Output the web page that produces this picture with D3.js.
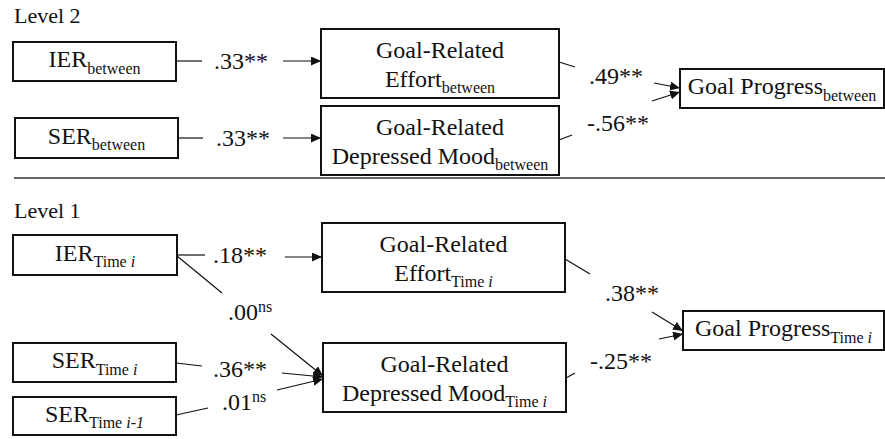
<!DOCTYPE html>
<html>
<head>
<meta charset="utf-8">
<script src="https://cdn.jsdelivr.net/npm/d3@7"></script>
<style>
  body { margin: 0; background: #fff; }
  svg { display: block; }
</style>
</head>
<body>
<div id="container"></div>
<script>
// ---- data ----
const levelNames = ["Level 2", "Level 1"];

const nodeIds   = ["ier2", "ser2", "eff2", "mood2", "gp2", "ier1", "ser1", "serLag1", "eff1", "mood1", "gp1"];
const nodeLines = [["IER"], ["SER"], ["Goal-Related", "Effort"], ["Goal-Related", "Depressed Mood"], ["Goal Progress"],
                   ["IER"], ["SER"], ["SER"], ["Goal-Related", "Effort"], ["Goal-Related", "Depressed Mood"], ["Goal Progress"]];
const nodeSubs  = ["between", "between", "between", "between", "between",
                   "Time i", "Time i", "Time i-1", "Time i", "Time i", "Time i"];

const pathFrom  = ["ier2", "ser2", "eff2", "mood2", "ier1", "ier1", "ser1", "serLag1", "eff1", "mood1"];
const pathTo    = ["eff2", "mood2", "gp2", "gp2", "eff1", "mood1", "mood1", "mood1", "gp1", "gp1"];
const pathCoef  = [".33", ".33", ".49", "-.56", ".18", ".00", ".36", ".01", ".38", "-.25"];
const pathSig   = ["**", "**", "**", "**", "**", "ns", "**", "ns", "**", "**"];

// ---- layout ----
let w = 885;
let h = 439;
const serif = "'Liberation Serif', 'Times New Roman', serif";
const fontMain = 24;
const fontSub = 16;

// box extents [x0, y0, x1, y1]
const boxes = {
  ier2: [13, 42, 176, 81],   ser2: [15, 118, 178, 158],
  eff2: [321, 29, 559, 98],  mood2: [321, 106, 559, 175],
  gp2: [680, 69, 884, 108],
  ier1: [13, 235, 177, 275], ser1: [13, 343, 176, 382], serLag1: [13, 397, 176, 435],
  eff1: [322, 223, 565, 292], mood1: [323, 343, 566, 412],
  gp1: [683, 311, 884, 350]
};

// each path: start, end of first piece, label anchor (left, baseline), start of second piece, arrow tip
const pathGeo = [
  [[176, 61], [202, 61], [214, 69], [283, 61], [321, 61]],
  [[178, 138], [203, 138], [216, 146], [283, 138], [321, 138]],
  [[559, 62], [575, 67], [589, 84], [654, 83], [680, 88]],
  [[559, 140], [572, 135], [587, 131], [652, 101], [680, 92]],
  [[177, 255], [205, 255], [213, 263], [285, 257], [322, 257]],
  [[177, 256], [222, 293], [228, 320], [271, 334], [323, 376]],
  [[176, 363], [202, 366], [213, 377], [282, 373], [323, 377]],
  [[176, 415], [208, 408], [222, 410], [277, 390], [323, 379]],
  [[565, 259], [590, 274], [605, 301], [652, 312], [683, 331]],
  [[566, 378], [575, 373], [590, 369], [659, 339], [683, 334]]
];

const levelPos = [[14, 23], [14, 218]];
const dividerY = 178;

let viz = d3.select("#container")
  .append("svg")
  .attr("width", w)
  .attr("height", h)
  .style("font-family", serif)
;

viz.append("rect").attr("width", w).attr("height", h).attr("fill", "#fff");

viz.append("defs").append("marker")
  .attr("id", "head")
  .attr("markerUnits", "userSpaceOnUse")
  .attr("viewBox", "0 0 10 9")
  .attr("refX", 10).attr("refY", 4.5)
  .attr("markerWidth", 10).attr("markerHeight", 9)
  .attr("orient", "auto")
  .append("path")
  .attr("d", "M0,0 L10,4.5 L0,9 Z")
  .attr("fill", "#111");

// level titles + divider
viz.selectAll(".level").data(levelNames).enter()
  .append("text")
  .attr("class", "level")
  .attr("x", (d, i) => levelPos[i][0])
  .attr("y", (d, i) => levelPos[i][1])
  .attr("font-size", 22)
  .attr("fill", "#111")
  .text(d => d);

viz.append("line")
  .attr("x1", 14).attr("x2", w)
  .attr("y1", dividerY).attr("y2", dividerY)
  .attr("stroke", "#333").attr("stroke-width", 1.6);

// boxes
let nodes = viz.selectAll(".node").data(nodeIds).enter()
  .append("g")
  .attr("class", "node");

nodes.append("rect")
  .attr("x", d => boxes[d][0])
  .attr("y", d => boxes[d][1])
  .attr("width", d => boxes[d][2] - boxes[d][0])
  .attr("height", d => boxes[d][3] - boxes[d][1])
  .attr("fill", "#fff")
  .attr("stroke", "#111")
  .attr("stroke-width", 2);

function addSub(t, sub) {
  // "Time i" -> italic index
  if (sub.indexOf("Time ") === 0) {
    t.append("tspan").attr("font-size", fontSub).attr("dy", 6.5).text("Time ");
    t.append("tspan").attr("font-size", fontSub).attr("font-style", "italic").text(sub.slice(5));
  } else {
    t.append("tspan").attr("font-size", fontSub).attr("dy", 6.5).text(sub);
  }
}

nodes.each(function(d, i) {
  let b = boxes[d];
  let cx = (b[0] + b[2]) / 2;
  let cy = (b[1] + b[3]) / 2;
  let lines = nodeLines[i];
  let g = d3.select(this);
  if (lines.length === 1) {
    let t = g.append("text")
      .attr("x", cx).attr("y", cy + 5.5)
      .attr("text-anchor", "middle")
      .attr("fill", "#111")
      .attr("font-size", fontMain);
    t.append("tspan").text(lines[0]);
    addSub(t, nodeSubs[i]);
  } else {
    g.append("text")
      .attr("x", cx).attr("y", cy - 6)
      .attr("text-anchor", "middle")
      .attr("fill", "#111")
      .attr("font-size", fontMain)
      .text(lines[0]);
    let t = g.append("text")
      .attr("x", cx).attr("y", cy + 23)
      .attr("text-anchor", "middle")
      .attr("fill", "#111")
      .attr("font-size", fontMain);
    t.append("tspan").text(lines[1]);
    addSub(t, nodeSubs[i]);
  }
});

// paths
let paths = viz.selectAll(".path").data(pathCoef).enter()
  .append("g")
  .attr("class", "path");

paths.append("line")
  .attr("x1", (d, i) => pathGeo[i][0][0]).attr("y1", (d, i) => pathGeo[i][0][1])
  .attr("x2", (d, i) => pathGeo[i][1][0]).attr("y2", (d, i) => pathGeo[i][1][1])
  .attr("stroke", "#111").attr("stroke-width", 1.2);

paths.append("line")
  .attr("x1", (d, i) => pathGeo[i][3][0]).attr("y1", (d, i) => pathGeo[i][3][1])
  .attr("x2", (d, i) => pathGeo[i][4][0]).attr("y2", (d, i) => pathGeo[i][4][1])
  .attr("stroke", "#111").attr("stroke-width", 1.2)
  .attr("marker-end", "url(#head)");

paths.each(function(d, i) {
  let t = d3.select(this).append("text")
    .attr("x", pathGeo[i][2][0])
    .attr("y", pathGeo[i][2][1])
    .attr("fill", "#111")
    .attr("font-size", fontMain);
  t.append("tspan").text(d);
  if (pathSig[i] === "ns") {
    t.append("tspan").attr("font-size", fontSub).attr("dy", -8).text("ns");
  } else {
    t.append("tspan").text(pathSig[i]);
  }
});
</script>
</body>
</html>
